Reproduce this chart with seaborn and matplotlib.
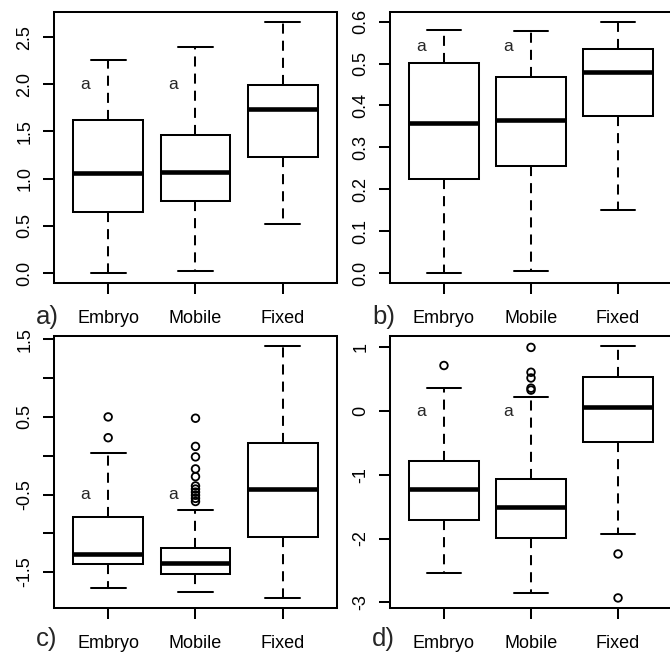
import numpy as np
import pandas as pd
import matplotlib
matplotlib.use("Agg")
import matplotlib.pyplot as plt
import seaborn as sns

groups = ["Embryo", "Mobile", "Fixed"]

# Five-number summaries per group: lower whisker, Q1, median, Q3, upper whisker
a_summary = [[0.000, 0.645, 1.057, 1.620, 2.262],
             [0.025, 0.762, 1.067, 1.461, 2.394],
             [0.518, 1.234, 1.738, 1.993, 2.660]]
b_summary = [[0.000, 0.2235, 0.357, 0.501, 0.580],
             [0.005, 0.255, 0.3655, 0.467, 0.577],
             [0.150, 0.375, 0.479, 0.535, 0.599]]
c_summary = [[-1.703, -1.392, -1.270, -0.786, 0.041],
             [-1.751, -1.526, -1.387, -1.184, -0.705],
             [-1.833, -1.045, -0.435, 0.158, 1.413]]
d_summary = [[-2.537, -1.716, -1.226, -0.779, 0.358],
             [-2.858, -1.989, -1.500, -1.068, 0.226],
             [-1.926, -0.484, 0.068, 0.542, 1.021]]

# Points beyond the whiskers
a_outliers = [[], [], []]
b_outliers = [[], [], []]
c_outliers = [[0.500, 0.232],
              [0.483, 0.120, -0.015, -0.170, -0.270, -0.390, -0.430,
               -0.470, -0.510, -0.550, -0.590],
              []]
d_outliers = [[0.716],
              [1.000, 0.610, 0.520, 0.360, 0.330],
              [-2.242, -2.932]]

# Axis ticks and their labels
a_ticks = [0.0, 0.5, 1.0, 1.5, 2.0, 2.5]
a_ticklabels = ["0.0", "0.5", "1.0", "1.5", "2.0", "2.5"]
b_ticks = [0.0, 0.1, 0.2, 0.3, 0.4, 0.5, 0.6]
b_ticklabels = ["0.0", "0.1", "0.2", "0.3", "0.4", "0.5", "0.6"]
c_ticks = [-1.5, -1.0, -0.5, 0.0, 0.5, 1.0, 1.5]
c_ticklabels = ["-1.5", "", "-0.5", "", "0.5", "", "1.5"]
d_ticks = [-3, -2, -1, 0, 1]
d_ticklabels = ["-3", "-2", "-1", "0", "1"]

# Height of the "a" significance letters over Embryo and Mobile
letter_y = [2.0, 0.54, -0.5, 0.0]
panel_tags = ["a)", "b)", "c)", "d)"]

sns.set_theme(style="ticks")
plt.rcParams["font.family"] = ["Liberation Sans", "DejaVu Sans"]

W, H = 670, 652
fig = plt.figure(figsize=(W / 100, H / 100), dpi=100)

# panel rectangles in pixels: left, right, top, bottom
rects = [(54, 337, 12, 283), (390, 672, 12, 283),
         (54, 337, 336, 608), (390, 672, 336, 608)]

LW = 1.45


def draw_panel(rect, summary, outliers, ticks, ticklabels, ly, tag):
    l, r, t, b = rect
    ax = fig.add_axes([l / W, 1 - b / H, (r - l) / W, (b - t) / H])
    df = pd.DataFrame({
        "group": np.repeat(groups, 5),
        "value": np.concatenate(summary),
    })
    sns.boxplot(data=df, x="group", y="value", order=groups,
                whis=(0, 100), width=0.8, color="white", linecolor="black",
                linewidth=LW, showfliers=False,
                whiskerprops={"linestyle": (0, (5, 3.5))},
                medianprops={"linewidth": 3.3, "solid_capstyle": "butt"},
                ax=ax)
    ox, oy = [], []
    for i, vals in enumerate(outliers):
        ox += [i] * len(vals)
        oy += list(vals)
    if oy:
        sns.scatterplot(x=ox, y=oy, marker="o", s=30, facecolors="none",
                        edgecolors="black", linewidths=1.3, ax=ax, zorder=5)
    allv = np.concatenate([np.concatenate(summary), np.array(oy, dtype=float)])
    lo, hi = allv.min(), allv.max()
    pad = 0.04 * (hi - lo)
    ax.set_ylim(lo - pad, hi + pad)
    ax.set_xlim(-0.62, 2.62)
    ax.set_xlabel("")
    ax.set_ylabel("")
    ax.set_yticks(ticks)
    ax.set_yticklabels(ticklabels, rotation=90, va="center")
    ax.set_xticks(range(len(groups)))
    ax.set_xticklabels(groups)
    ax.tick_params(axis="both", direction="out", length=8, width=LW,
                   color="black", labelcolor="black", labelsize=13,
                   bottom=True, left=True)
    ax.tick_params(axis="x", pad=11.5)
    ax.tick_params(axis="y", pad=7)
    for s in ax.spines.values():
        s.set_visible(True)
        s.set_linewidth(LW)
        s.set_color("black")
    for i in range(2):
        ax.text(i - 0.26, ly, "a", fontsize=12.5, ha="center", va="center")
    ax.text(-0.064, -(317 - 283) / 271 if t < 100 else -(639 - 608) / 272,
            tag, transform=ax.transAxes, fontsize=18.5,
            ha="left", va="center")
    return ax


draw_panel(rects[0], a_summary, a_outliers, a_ticks, a_ticklabels, letter_y[0], panel_tags[0])
draw_panel(rects[1], b_summary, b_outliers, b_ticks, b_ticklabels, letter_y[1], panel_tags[1])
draw_panel(rects[2], c_summary, c_outliers, c_ticks, c_ticklabels, letter_y[2], panel_tags[2])
draw_panel(rects[3], d_summary, d_outliers, d_ticks, d_ticklabels, letter_y[3], panel_tags[3])

fig.savefig("out.png", dpi=100, facecolor="white")
